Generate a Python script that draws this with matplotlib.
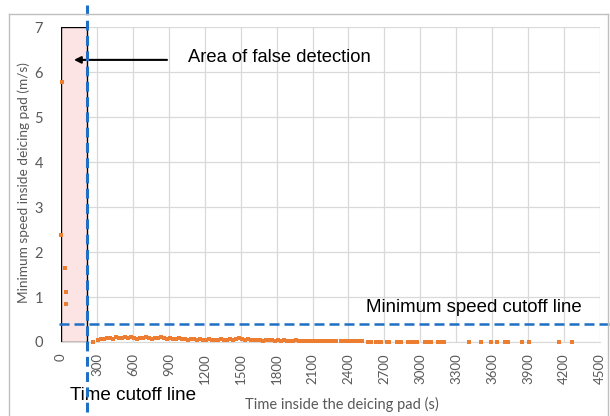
import matplotlib
matplotlib.use("Agg")
import matplotlib.pyplot as plt
from matplotlib.patches import Rectangle
from matplotlib.lines import Line2D

# Detections inside the false-detection window (time s, speed m/s)
early_t = [2, 12, 30, 38, 42]
early_v = [2.38, 5.78, 1.65, 1.12, 0.84]

# Regular detections after the time cutoff
main_t = [270, 310, 335, 360, 385, 410, 435, 460, 485, 510, 535, 560, 585, 610,
          635, 660, 685, 710, 735, 760, 785, 810, 835, 860, 885, 910, 935, 960,
          985, 1010, 1035, 1060, 1085, 1110, 1135, 1160, 1185, 1210, 1235, 1260,
          1285, 1310, 1335, 1360, 1385, 1410, 1435, 1460, 1485, 1510, 1535, 1560,
          1585, 1610, 1635, 1660, 1685, 1710, 1735, 1760, 1785, 1810, 1835, 1860,
          1885, 1910, 1935, 1960, 1985, 2010, 2035, 2060, 2085, 2110, 2135,
          2170, 2195, 2225, 2250, 2275, 2300, 2340, 2365, 2390, 2415, 2440, 2465,
          2490, 2515, 2560, 2585, 2630, 2655, 2675, 2720, 2735, 2805, 2840, 2895,
          2910, 2945, 2975, 3035, 3070, 3090, 3145, 3170, 3195, 3406, 3506, 3589,
          3639, 3706, 3731, 3848, 3906, 4157, 4265]
main_v = [0.01, 0.05, 0.07, 0.06, 0.08, 0.09, 0.07, 0.10, 0.08, 0.09, 0.11, 0.08,
          0.10, 0.09, 0.07, 0.09, 0.08, 0.10, 0.08, 0.07, 0.09, 0.08, 0.10, 0.09,
          0.07, 0.08, 0.06, 0.07, 0.08, 0.06, 0.07, 0.05, 0.06, 0.07, 0.05, 0.06,
          0.04, 0.05, 0.06, 0.05, 0.04, 0.05, 0.06, 0.04, 0.05, 0.06, 0.05, 0.07,
          0.08, 0.06, 0.05, 0.06, 0.04, 0.05, 0.04, 0.05, 0.03, 0.04, 0.05, 0.04,
          0.03, 0.04, 0.03, 0.04, 0.03, 0.02, 0.03, 0.04, 0.03, 0.02, 0.03, 0.02,
          0.03, 0.02, 0.03,
          0.02, 0.02, 0.02, 0.02, 0.02, 0.02, 0.02, 0.02, 0.02, 0.02, 0.02, 0.02,
          0.02, 0.02, 0.01, 0.01, 0.01, 0.01, 0.01, 0.01, 0.01, 0.01, 0.01, 0.01,
          0.01, 0.01, 0.01, 0.01, 0.01, 0.01, 0.01, 0.01, 0.01, 0.01, 0.01, 0.01,
          0.01, 0.01, 0.01, 0.01, 0.01, 0.01, 0.01]

x_ticks = list(range(0, 4501, 300))
y_ticks = list(range(0, 8))
time_cutoff = 220
speed_cutoff = 0.4

ORANGE = "#ED7D31"
BLUE = "#1F6FC4"
GRAY = "#595959"
GRID = "#D9D9D9"

fig = plt.figure(figsize=(6.1, 4.16), dpi=100)
ax = fig.add_axes([0.1, 0.1779, 0.8836, 0.7571])
ax.set_xlim(0, 4500)
ax.set_ylim(0, 7)

# Chart frame
fig.add_artist(Line2D([9 / 610, 9 / 610], [-0.1, 1 - 13.5 / 416],
                      transform=fig.transFigure, color="#BFBFBF", lw=1))
fig.add_artist(Line2D([9 / 610, 608 / 610], [1 - 13.5 / 416, 1 - 13.5 / 416],
                      transform=fig.transFigure, color="#BFBFBF", lw=1))
fig.add_artist(Line2D([608 / 610, 608 / 610], [-0.1, 1 - 13.5 / 416],
                      transform=fig.transFigure, color="#BFBFBF", lw=1))

ax.set_xticks(x_ticks)
ax.set_yticks(y_ticks)
ax.grid(True, color=GRID, lw=0.9)
ax.set_axisbelow(True)
for s in ["top", "right", "left"]:
    ax.spines[s].set_visible(False)
ax.spines["bottom"].set_color(GRID)
ax.tick_params(length=0, colors=GRAY)
for lbl in ax.get_xticklabels():
    lbl.set_rotation(90)
    lbl.set_fontsize(9.5)
    lbl.set_family("Lato")
for lbl in ax.get_yticklabels():
    lbl.set_fontsize(10.5)
    lbl.set_family("Lato")
ax.tick_params(axis="x", pad=8)
ax.tick_params(axis="y", pad=13)

ax.set_xlabel("Time inside the deicing pad (s)", color=GRAY, fontsize=10.5,
              family="Lato")
ax.xaxis.set_label_coords(0.521, -0.175)
ax.set_ylabel("Minimum speed inside deicing pad (m/s)", color=GRAY, fontsize=9.8,
              family="Lato")
ax.yaxis.set_label_coords(-0.058, 0.505)

# False detection window
ax.add_patch(Rectangle((0, 0), time_cutoff, 7, facecolor="#FDE4E4",
                       edgecolor="black", lw=1, zorder=1))

ax.plot(early_t, early_v, "s", color=ORANGE, ms=2.8, mew=0, zorder=3, clip_on=False)
ax.plot(main_t, main_v, "s", color=ORANGE, ms=3.0, mew=0, zorder=3, clip_on=False)

# Cutoff lines
ax.plot([time_cutoff, time_cutoff], [-1.56, 7.48], color=BLUE, lw=2.2,
        linestyle=(0, (3.2, 1.8)), clip_on=False, zorder=4)
ax.plot([-20, 4640], [speed_cutoff, speed_cutoff], color=BLUE, lw=1.8,
        linestyle=(0, (4, 2)), clip_on=False, zorder=4)

ax.annotate("", xy=(108, 6.27), xytext=(885, 6.27),
            arrowprops=dict(arrowstyle="-|>", color="black", lw=1.5,
                            mutation_scale=10, shrinkA=0, shrinkB=0))
ax.text(1060, 6.33, "Area of false detection", fontsize=13.2,
        family="Liberation Sans", ha="left", va="center")
ax.text(2546, 0.76, "Minimum speed cutoff line", fontsize=13.4,
        family="Liberation Sans", ha="left", va="center")
ax.text(75, -1.18, "Time cutoff line", fontsize=13.6, family="Liberation Sans",
        ha="left", va="center", clip_on=False)

fig.savefig("out.png", dpi=100)
